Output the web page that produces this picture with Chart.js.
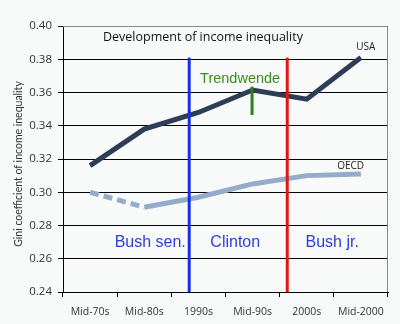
<!DOCTYPE html>
<html>
<head>
<meta charset="utf-8">
<script src="https://cdn.jsdelivr.net/npm/chart.js@4.4.1/dist/chart.umd.min.js"></script>
<style>
  html, body { margin: 0; padding: 0; background: #f7faf9; }
  #wrap { width: 400px; height: 324px; }
</style>
</head>
<body>
<div id="wrap"><canvas id="gini" width="400" height="324"></canvas></div>
<script>
const categories = ['Mid-70s', 'Mid-80s', '1990s', 'Mid-90s', '2000s', 'Mid-2000'];
const usaGini = [0.316, 0.338, 0.348, 0.3615, 0.356, 0.381];
const oecdGini = [0.300, 0.291, 0.297, 0.305, 0.310, 0.311];
const yTicks = [0.24, 0.26, 0.28, 0.30, 0.32, 0.34, 0.36, 0.38, 0.40];

// presidency boundaries and the turning point marker (x as category index)
const markers = [
    { x: 1.83, from: 0.24, to: 0.381, color: '#1830e0', width: 3 },
    { x: 3.64, from: 0.24, to: 0.381, color: '#e31414', width: 3 },
    { x: 2.99, from: 0.3465, to: 0.3635, color: '#2f7d1c', width: 3 }
];
const notes = [
    { text: 'Bush sen.', x: 1.11, y: 0.2695, color: '#2b3fd2', font: '16px "Liberation Sans", Arial' },
    { text: 'Clinton', x: 2.68, y: 0.2695, color: '#2b3fd2', font: '16px "Liberation Sans", Arial' },
    { text: 'Bush jr.', x: 4.47, y: 0.2695, color: '#2b3fd2', font: '16px "Liberation Sans", Arial' },
    { text: 'Trendwende', x: 2.77, y: 0.3683, color: '#3c8a22', font: '14.5px "Liberation Sans", Arial' },
    { text: 'USA', x: 5.09, y: 0.3874, color: '#222', font: '10px "Open Sans"' },
    { text: 'OECD', x: 4.81, y: 0.3159, color: '#222', font: '10px "Open Sans"' }
];
const yTitle = 'Gini coefficient of income inequality';

const overlay = {
    id: 'overlay',
    beforeDatasetsDraw(chart) {
        const { ctx, chartArea: a } = chart;
        ctx.save();
        ctx.strokeStyle = '#8a8a8a';
        ctx.lineWidth = 1;
        ctx.beginPath();
        ctx.moveTo(a.left, a.top + 0.5);
        ctx.lineTo(a.right - 0.5, a.top + 0.5);
        ctx.lineTo(a.right - 0.5, a.bottom);
        ctx.stroke();
        ctx.restore();
    },
    afterDatasetsDraw(chart) {
        const { ctx, chartArea: a, scales: { x, y } } = chart;
        ctx.save();
        markers.forEach(m => {
            const px = x.getPixelForValue(m.x);
            ctx.strokeStyle = m.color;
            ctx.lineWidth = m.width;
            ctx.beginPath();
            ctx.moveTo(px, y.getPixelForValue(m.from));
            ctx.lineTo(px, y.getPixelForValue(m.to));
            ctx.stroke();
        });
        ctx.textAlign = 'center';
        ctx.textBaseline = 'middle';
        notes.forEach(n => {
            ctx.font = n.font;
            ctx.fillStyle = n.color;
            ctx.fillText(n.text, x.getPixelForValue(n.x), y.getPixelForValue(n.y));
        });
        ctx.font = '12.5px "Open Sans"';
        ctx.fillStyle = '#111';
        ctx.textAlign = 'left';
        ctx.fillText('Development of income inequality', a.left + 40, a.top + 11);

        // rotated axis title
        ctx.translate(19, (a.top + a.bottom) / 2 + 5);
        ctx.rotate(-Math.PI / 2);
        ctx.textAlign = 'center';
        ctx.font = '10.5px Lato';
        ctx.fillStyle = '#333';
        ctx.fillText(yTitle, 0, 0);
        ctx.restore();
    }
};

new Chart(document.getElementById('gini'), {
    type: 'line',
    data: {
        labels: categories,
        datasets: [
            {
                label: 'USA',
                data: usaGini,
                borderColor: '#2c3d55',
                borderWidth: 5,
                pointRadius: 0,
                tension: 0
            },
            {
                label: 'OECD',
                data: oecdGini,
                borderColor: '#94acc9',
                borderWidth: 5,
                pointRadius: 0,
                tension: 0,
                segment: {
                    borderDash: ctx => ctx.p0DataIndex === 0 ? [9, 5] : undefined
                }
            }
        ]
    },
    options: {
        responsive: false,
        animation: false,
        layout: { padding: { top: 26, right: 12, bottom: 0, left: 0 } },
        plugins: {
            legend: { display: false },
            tooltip: { enabled: false }
        },
        scales: {
            x: {
                offset: true,
                grid: { offset: true, drawOnChartArea: false, color: '#000', tickLength: 5 },
                border: { color: '#000' },
                ticks: { color: '#333', font: { family: 'Open Sans', size: 10.5 }, padding: 9, maxRotation: 0 },
                afterFit(scale) { scale.height = 32; }
            },
            y: {
                min: 0.24,
                max: 0.40,
                afterBuildTicks(scale) { scale.ticks = yTicks.map(v => ({ value: v })); },
                grid: { color: '#000', tickLength: 5 },
                border: { color: '#000' },
                ticks: {
                    color: '#333',
                    font: { family: 'Open Sans', size: 11.5 },
                    padding: 6,
                    callback: v => v.toFixed(2)
                },
                afterFit(scale) { scale.width = 63; }
            }
        }
    },
    plugins: [overlay]
});
</script>
</body>
</html>
